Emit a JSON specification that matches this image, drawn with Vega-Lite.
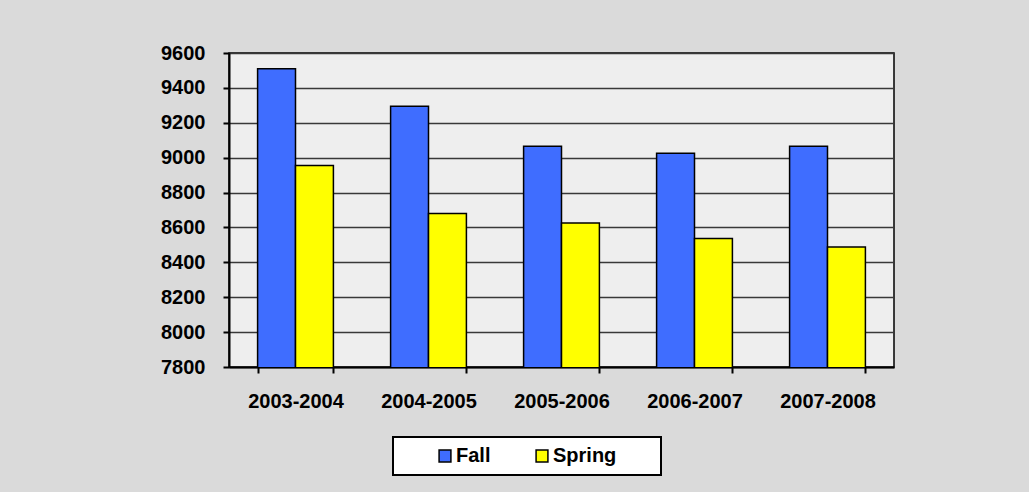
{
  "$schema": "https://vega.github.io/schema/vega-lite/v6.json",
  "width": 665,
  "height": 314,
  "autosize": {"type": "none"},
  "padding": {"left": 229, "top": 53, "right": 135, "bottom": 125},
  "background": "#DADADA",
  "data": {
    "values": [
      {"year": "2003-2004", "term": "Fall", "value": 9510},
      {"year": "2003-2004", "term": "Spring", "value": 8955},
      {"year": "2004-2005", "term": "Fall", "value": 9295},
      {"year": "2004-2005", "term": "Spring", "value": 8680},
      {"year": "2005-2006", "term": "Fall", "value": 9065},
      {"year": "2005-2006", "term": "Spring", "value": 8625},
      {"year": "2006-2007", "term": "Fall", "value": 9025},
      {"year": "2006-2007", "term": "Spring", "value": 8537},
      {"year": "2007-2008", "term": "Fall", "value": 9065},
      {"year": "2007-2008", "term": "Spring", "value": 8488}
    ]
  },
  "mark": {"type": "bar", "stroke": "black", "strokeWidth": 1.5, "clip": true},
  "encoding": {
    "x": {
      "field": "year",
      "type": "nominal",
      "sort": null,
      "title": null,
      "scale": {"paddingInner": 0.43, "paddingOuter": 0.215},
      "axis": {
        "labelAngle": 0,
        "tickBand": "extent",
        "tickSize": 6,
        "tickWidth": 2,
        "tickColor": "black",
        "domainColor": "black",
        "domainWidth": 2,
        "labelPadding": 18,
        "labelFont": "Liberation Sans",
        "labelFontWeight": "bold",
        "labelFontSize": 20,
        "labelColor": "black",
        "grid": false
      }
    },
    "xOffset": {"field": "term", "type": "nominal", "sort": ["Fall", "Spring"], "scale": {"paddingInner": 0, "paddingOuter": 0}},
    "y": {
      "field": "value",
      "type": "quantitative",
      "title": null,
      "scale": {"domain": [7800, 9600], "zero": false, "nice": false},
      "axis": {
        "values": [7800, 8000, 8200, 8400, 8600, 8800, 9000, 9200, 9400, 9600],
        "format": "d",
        "tickSize": 6,
        "tickWidth": 2,
        "tickColor": "black",
        "domainColor": "black",
        "domainWidth": 2,
        "labelPadding": 18,
        "labelFont": "Liberation Sans",
        "labelFontWeight": "bold",
        "labelFontSize": 20,
        "labelColor": "black",
        "grid": true,
        "gridColor": "#383838",
        "gridWidth": 1.6
      }
    },
    "color": {
      "field": "term",
      "type": "nominal",
      "sort": ["Fall", "Spring"],
      "scale": {"domain": ["Fall", "Spring"], "range": ["#3F6DFF", "#FFFF00"]},
      "legend": {
        "title": "\u00a0",
        "titleOrient": "right",
        "titlePadding": 36,
        "titleFontSize": 20,
        "orient": "none",
        "legendX": 164,
        "legendY": 384,
        "direction": "horizontal",
        "symbolType": "square",
        "symbolSize": 140,
        "symbolStrokeColor": "black",
        "symbolStrokeWidth": 1.5,
        "symbolOffset": 33,
        "labelOffset": 1,
        "columnPadding": 8,
        "labelFont": "Liberation Sans",
        "labelFontWeight": "bold",
        "labelFontSize": 20,
        "labelColor": "black",
        "padding": 9,
        "fillColor": "white",
        "strokeColor": "black"
      }
    }
  },
  "config": {
    "view": {"stroke": "black", "strokeWidth": 1.5, "fill": "#EEEEEE"},
    "legend": {"strokeWidth": 2}
  }
}
